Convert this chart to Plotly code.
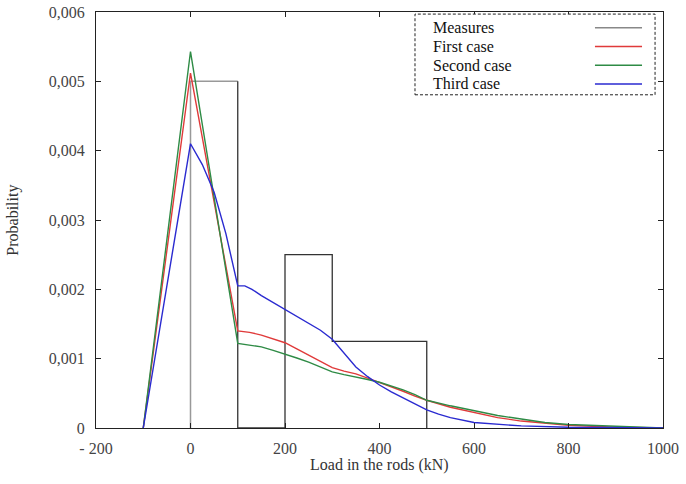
import plotly.graph_objects as go

# Measures (step histogram outline)
meas_x = [100, 100, 200, 200, 300, 300, 500, 500]
meas_y = [0.005, 0, 0, 0.0025, 0.0025, 0.00125, 0.00125, 0]
meas0_x = [0, 0, 100]
meas0_y = [0, 0.005, 0.005]

first_x = [-100, 0, 100, 125, 150, 175, 200, 225, 250, 275, 300, 325, 350, 375, 400, 425, 450, 475, 500, 550, 600, 650, 700, 750, 800, 900, 1000]
first_y = [0, 0.00512, 0.00140, 0.00138, 0.00134, 0.00129, 0.00123, 0.00114, 0.00105, 0.00095, 0.00087, 0.00082, 0.00078, 0.00072, 0.00066, 0.00059, 0.00053, 0.00046, 0.00040, 0.00030, 0.00022, 0.00015, 0.00010, 0.00007, 0.00004, 0.00001, 0]

second_x = [-100, 0, 100, 125, 150, 175, 200, 225, 250, 275, 300, 325, 350, 375, 400, 425, 450, 475, 500, 550, 600, 650, 700, 750, 800, 900, 1000]
second_y = [0, 0.00543, 0.00122, 0.00120, 0.00117, 0.00112, 0.00107, 0.00101, 0.00095, 0.00088, 0.00081, 0.00077, 0.00074, 0.00070, 0.00066, 0.00061, 0.00055, 0.00048, 0.00040, 0.00032, 0.00025, 0.00018, 0.00013, 0.00008, 0.00005, 0.00002, 0]

third_x = [-100, 0, 25, 50, 75, 100, 115, 130, 150, 175, 200, 225, 250, 275, 300, 325, 350, 375, 400, 425, 450, 475, 500, 525, 550, 600, 650, 700, 800, 900, 1000]
third_y = [0, 0.0041, 0.0038, 0.0034, 0.0028, 0.00205, 0.00205, 0.00200, 0.00191, 0.00181, 0.00170, 0.00160, 0.00150, 0.00141, 0.00128, 0.00108, 0.00088, 0.00074, 0.00062, 0.00052, 0.00043, 0.00034, 0.00026, 0.00020, 0.00015, 0.00008, 0.00005, 0.00003, 0.00001, 0, 0]

x_ticks = [-200, 0, 200, 400, 600, 800, 1000]
x_ticklabels = ["- 200", "0", "200", "400", "600", "800", "1000"]
y_ticks = [0, 0.001, 0.002, 0.003, 0.004, 0.005, 0.006]
y_ticklabels = ["0", "0,001", "0,002", "0,003", "0,004", "0,005", "0,006"]

names = ["Measures", "First case", "Second case", "Third case"]
colors = ["#888888", "#e03a3a", "#2e8b45", "#2a2ad0"]

FONT = "Liberation Serif, DejaVu Serif, serif"

fig = go.Figure()
fig.add_trace(go.Scatter(x=meas0_x, y=meas0_y, mode="lines", line=dict(color="#999999", width=1.5),
                         name=names[0], showlegend=False))
fig.add_trace(go.Scatter(x=meas_x, y=meas_y, mode="lines", line=dict(color="#333333", width=1.3),
                         name=names[0], showlegend=False))
fig.add_trace(go.Scatter(x=first_x, y=first_y, mode="lines", line=dict(color=colors[1], width=1.4),
                         name=names[1], showlegend=False))
fig.add_trace(go.Scatter(x=second_x, y=second_y, mode="lines", line=dict(color=colors[2], width=1.4),
                         name=names[2], showlegend=False))
fig.add_trace(go.Scatter(x=third_x, y=third_y, mode="lines", line=dict(color=colors[3], width=1.4),
                         name=names[3], showlegend=False))

# Manual legend (symbols on the right, dashed frame)
shapes = [dict(type="rect", xref="paper", yref="paper", x0=0.5626, x1=0.986, y0=0.801, y1=0.995,
               line=dict(color="#222222", width=1, dash="3px,2px"), fillcolor="white", layer="above")]
annotations = []
rows_y = [0.962, 0.917, 0.872, 0.827]
for nm, c, ry in zip(names, colors, rows_y):
    annotations.append(dict(xref="paper", yref="paper", x=0.591, y=ry, text=nm, showarrow=False,
                            xanchor="left", yanchor="middle", font=dict(family=FONT, size=16, color="#111111")))
    shapes.append(dict(type="line", xref="paper", yref="paper", x0=0.880, x1=0.963, y0=ry, y1=ry,
                       line=dict(color=c, width=1.6), layer="above"))

annotations.append(dict(xref="paper", yref="paper", x=0.5, y=-0.09, text="Load in the rods (kN)", showarrow=False,
                        xanchor="center", yanchor="middle", font=dict(family=FONT, size=16, color="#333333")))
annotations.append(dict(xref="paper", yref="paper", x=-0.147, y=0.5, text="Probability", showarrow=False,
                        textangle=-90, xanchor="center", yanchor="middle", font=dict(family=FONT, size=16, color="#333333")))

axis_common = dict(showgrid=False, zeroline=False, showline=True, linecolor="#222222", linewidth=1,
                   mirror="ticks", ticks="inside", ticklen=5, tickcolor="#222222", automargin=False,
                   tickfont=dict(family=FONT, size=16, color="#444444"))

fig.update_layout(
    width=686, height=484,
    margin=dict(l=96, r=23, t=12, b=56),
    paper_bgcolor="white", plot_bgcolor="white",
    showlegend=False,
    font=dict(family=FONT),
    shapes=shapes, annotations=annotations,
    xaxis=dict(range=[-200, 1000], tickmode="array", tickvals=x_ticks, ticktext=x_ticklabels,
               ticklabelstandoff=6, **axis_common),
    yaxis=dict(range=[0, 0.006], tickmode="array", tickvals=y_ticks, ticktext=y_ticklabels,
               ticklabelstandoff=7, **axis_common),
)

fig.write_html("out.html")
